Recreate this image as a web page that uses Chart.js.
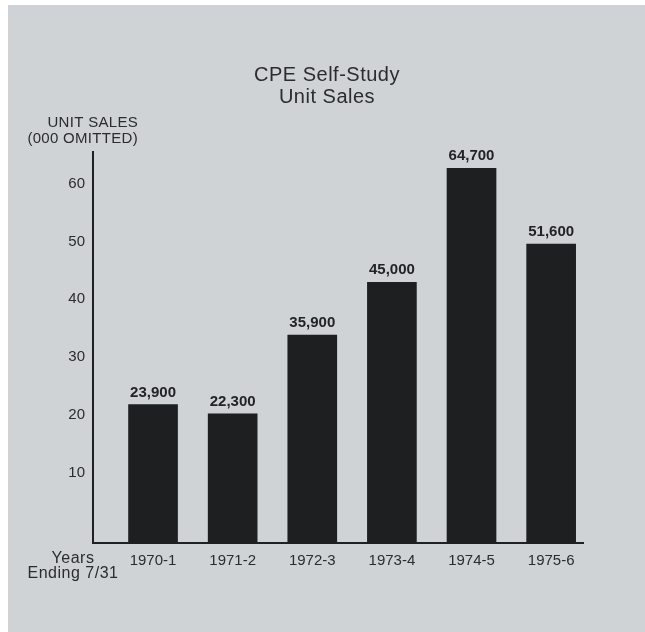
<!DOCTYPE html>
<html>
<head>
<meta charset="utf-8">
<script src="https://cdn.jsdelivr.net/npm/chart.js@4"></script>
<style>
  body { margin: 0; background: #fff; }
  #chart { position: absolute; left: 8px; top: 5px; background: #cfd3d5; }
</style>
</head>
<body>
<canvas id="chart" width="637" height="627"></canvas>
<script>
// fiscal years (ending 7/31)
const years = ['1970-1', '1971-2', '1972-3', '1973-4', '1974-5', '1975-6']
// unit sales, thousands
const unitSales = [23.9, 22.3, 35.9, 45.0, 64.7, 51.6]
const yTicks = [10, 20, 30, 40, 50, 60]

const ink = '#2b2c2e'
const font = 'Liberation Sans, Arial, Helvetica, sans-serif'

const extraText = {
    id: 'extraText',
    afterDatasetsDraw(chart) {
        const ctx = chart.ctx
        ctx.save()
        ctx.fillStyle = ink
        ctx.textBaseline = 'middle'

        // title
        ctx.textAlign = 'center'
        ctx.font = '20px ' + font
        ctx.letterSpacing = '0.5px'
        ctx.fillText('CPE Self-Study', 319, 70)
        ctx.fillText('Unit Sales', 319, 92)

        // y axis caption
        ctx.textAlign = 'right'
        ctx.font = '15px ' + font
        ctx.letterSpacing = '0.3px'
        ctx.fillText('UNIT SALES', 130, 118)
        ctx.fillText('(000 OMITTED)', 130, 134)

        // x axis caption
        ctx.textAlign = 'center'
        ctx.font = '16px ' + font
        ctx.letterSpacing = '0.5px'
        ctx.fillText('Years', 65, 554)
        ctx.fillText('Ending 7/31', 65, 569)
        ctx.letterSpacing = '0px'

        // value labels above bars
        ctx.font = 'bold 15px ' + font
        ctx.fillStyle = '#222325'
        const meta = chart.getDatasetMeta(0)
        meta.data.forEach((bar, i) => {
            const txt = Math.round(unitSales[i] * 1000).toLocaleString('en-US')
            ctx.fillText(txt, bar.x, bar.y - 12)
        })
        ctx.restore()
    }
}

new Chart(document.getElementById('chart').getContext('2d'), {
    type: 'bar',
    data: {
        datasets: [{
            data: years.map((y, i) => ({ x: i, y: unitSales[i] })),
            backgroundColor: '#1d1f21',
            barThickness: 49
        }]
    },
    options: {
        responsive: false,
        animation: false,
        devicePixelRatio: 1,
        layout: { padding: { left: 0, top: 147, right: 62, bottom: 49 } },
        plugins: { legend: { display: false }, tooltip: { enabled: false } },
        scales: {
            x: {
                type: 'linear',
                offset: false,
                min: -0.754,
                max: 5.4,
                afterBuildTicks: s => { s.ticks = years.map((y, i) => ({ value: i })) },
                afterFit: s => { s.height = 40 },
                grid: { color: 'transparent', drawTicks: false, offset: false },
                border: { display: true, color: '#1f2022', width: 2 },
                ticks: {
                    autoSkip: false,
                    maxRotation: 0,
                    padding: 9,
                    color: ink,
                    font: { family: font, size: 15 },
                    callback: v => years[v] ?? ''
                }
            },
            y: {
                min: 0,
                max: 67.5,
                afterBuildTicks: s => { s.ticks = yTicks.map(v => ({ value: v })) },
                afterFit: s => { s.width = 85 },
                grid: { color: 'transparent', drawTicks: false },
                border: { display: true, color: '#1f2022', width: 2 },
                ticks: {
                    padding: 8,
                    labelOffset: -12,
                    color: ink,
                    font: { family: font, size: 15 }
                }
            }
        }
    },
    plugins: [extraText]
})
</script>
</body>
</html>
